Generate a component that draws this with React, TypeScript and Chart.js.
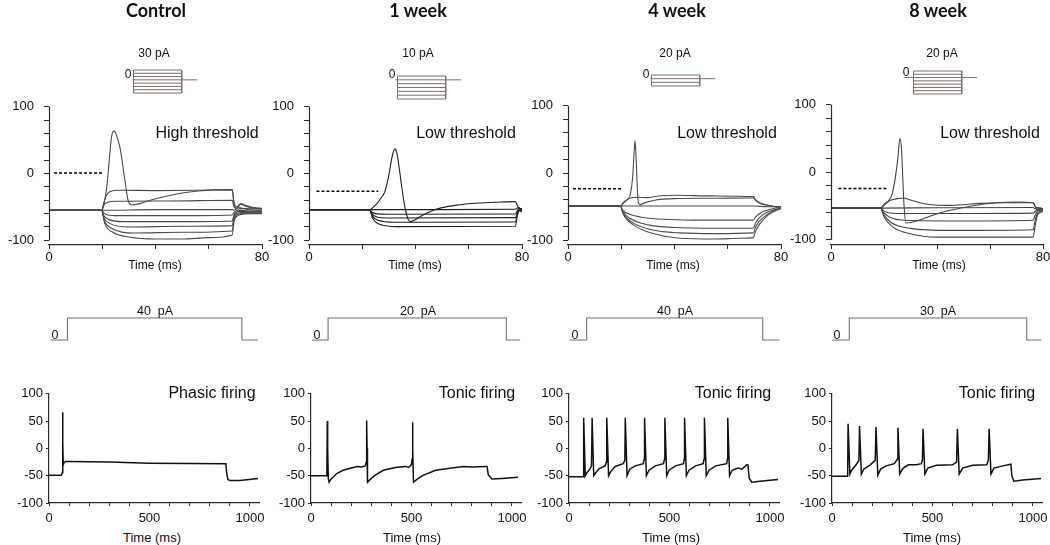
import React, { useEffect, useRef } from 'react';
import { Chart, registerables } from 'chart.js';

Chart.register(...registerables);

type Pt = [number, number];

// ---------------- DATA ----------------
const COLUMN_TITLES = ['Control', '1 week', '4 week', '8 week'];
const TOP_LABELS = ['High threshold', 'Low threshold', 'Low threshold', 'Low threshold'];
const BOTTOM_LABELS = ['Phasic firing', 'Tonic firing', 'Tonic firing', 'Tonic firing'];
const INSET_AMP_LABELS = ['30 pA', '10 pA', '20 pA', '20 pA'];
const STEP_AMPS = [40, 20, 40, 30];
const STEP_AMP_LABELS = ['40  pA', '20  pA', '40  pA', '30  pA'];

// Top panels: axes
const TOP_X_TICKS = [0, 20, 40, 60, 80];
const TOP_X_LABELS = [0, 80];
const TOP_Y_TICKS = [-100, -80, -60, -40, -20, 0, 20, 40, 60, 80, 100];
const TOP_Y_LABELS = [-100, 0, 100];

// Bottom panels: axes
const BOTTOM_X_TICKS = [0, 100, 200, 300, 400, 500, 600, 700, 800, 900, 1000];
const BOTTOM_X_LABELS = [0, 500, 1000];
const BOTTOM_Y_TICKS = [-100, -50, 0, 50, 100];
const BOTTOM_X_MAX = 1045;

// Inset current-step protocols (pA levels)
const INSET_LEVELS_CTRL = [30, 20, 10, 0, -10, -20, -30, -40];
const INSET_LEVELS_1W = [10, 0, -10, -20, -30, -40, -50];
const INSET_LEVELS_4W = [20, 0, -20, -40];
const INSET_LEVELS_8W = [20, 10, 0, -10, -20, -30, -40, -50];
const INSET_STEP_ON = 0;
const INSET_STEP_OFF = 50;
const INSET_TAIL_END = 66;
const INSET_BASE_START = [-1, -2, -1, -10];

// Middle step protocols (ms): start, on, off, end
const STEP_START = [7, 5, 3, 1];
const STEP_ON = [92, 85, 88, 86];
const STEP_OFF = [960, 972, 964, 969];
const STEP_END = [1040, 1041, 1046, 1041];

// Voltage responses (ms, mV) — Control
const CTRL_TOP_SPIKE: Pt[] = [[0, -55], [19.8, -55], [20.5, -48], [21.7, -20], [23.5, 55], [24.4, 64], [25.3, 58], [26.7, 38], [28.5, -10], [29.7, -40], [31.2, -47], [34, -45], [38, -40], [44, -34], [50, -29], [56, -26], [62, -24.5], [68.8, -24], [69.5, -45], [70.5, -52], [72, -46], [74, -49], [77, -52], [80, -53]];
const CTRL_TOP_A: Pt[] = [[0, -55], [19.8, -55], [20.5, -45], [21.5, -33], [23, -27], [26, -25], [40, -25.5], [55, -25], [68.8, -24], [69.5, -44], [70.5, -50], [72, -45], [74, -48], [77, -51], [80, -52]];
const CTRL_TOP_B: Pt[] = [[0, -55], [19.8, -55], [20.6, -47], [22, -43], [25, -41.5], [45, -41], [68.8, -40], [69.5, -50], [71, -53], [75, -52], [80, -53]];
const CTRL_TOP_C: Pt[] = [[0, -55], [20, -55], [40, -54], [68.8, -54], [69.5, -55], [71, -51], [75, -54], [80, -55]];
const CTRL_TOP_D: Pt[] = [[0, -55], [19.8, -55], [20.6, -59], [22, -62], [26, -63], [50, -63], [68.8, -62], [69.5, -58], [71, -55], [75, -56], [80, -56]];
const CTRL_TOP_E: Pt[] = [[0, -55], [19.8, -55], [20.6, -63], [22.5, -69], [28, -72], [50, -72], [68.8, -71], [69.5, -62], [71, -57], [75, -57], [80, -57]];
const CTRL_TOP_F: Pt[] = [[0, -55], [19.8, -55], [20.6, -66], [23, -75], [30, -80], [50, -79], [68.8, -78], [69.5, -65], [71, -59], [75, -58], [80, -58]];
const CTRL_TOP_G: Pt[] = [[0, -55], [19.8, -55], [20.7, -70], [23.5, -82], [32, -89], [50, -88], [68.8, -86], [69.5, -68], [71, -61], [75, -59], [80, -59]];
const CTRL_TOP_H: Pt[] = [[0, -55], [19.8, -55], [21, -75], [24, -88], [30, -95], [40, -98], [50, -98], [60, -96], [68.8, -92], [69.5, -72], [71, -63], [75, -60], [80, -60]];
const CTRL_DASH: Pt[] = [[1.9, 1], [20.7, 1]];

// 1 week
const W1_TOP_SPIKE: Pt[] = [[0, -54], [22.8, -54], [24, -51], [25.5, -45], [27, -37], [28.5, -27], [30, -2], [31.2, 25], [32.2, 37], [33, 31], [34, 5], [35, -25], [36, -50], [37, -66], [38, -72], [39.5, -70], [42, -64], [46, -56], [50, -51], [56, -47], [62, -44.5], [70, -43], [77.5, -42], [78.3, -48], [79, -52], [80, -53]];
const W1_TOP_A: Pt[] = [[0, -54], [22.8, -54], [50, -54], [77.5, -53.5], [78.5, -51], [80, -54]];
const W1_TOP_B: Pt[] = [[0, -54], [22.8, -54], [23.5, -57.5], [25, -60], [30, -61], [77.5, -60.5], [78.3, -55], [79, -52], [80, -54]];
const W1_TOP_C: Pt[] = [[0, -54], [22.8, -54], [23.6, -60], [25.5, -65], [30, -66.5], [77.5, -66], [78.3, -58], [79, -54], [80, -55]];
const W1_TOP_D: Pt[] = [[0, -54], [22.8, -54], [23.7, -63], [26, -70], [32, -73], [77.5, -72.5], [78.3, -60], [79, -55], [80, -56]];
const W1_TOP_E: Pt[] = [[0, -54], [22.8, -54], [23.8, -66], [26.5, -76], [33, -79.5], [77.5, -79], [78.3, -62], [79, -56], [80, -57]];
const W1_DASH: Pt[] = [[2.8, -26.6], [26, -26.6]];

// 4 week
const W4_TOP_SPIKE: Pt[] = [[0, -49], [19.7, -49], [21, -44], [22.5, -39], [23.5, -30], [24.3, -5], [24.9, 35], [25.2, 48], [25.6, 20], [26, -20], [26.4, -44], [27, -47], [29, -44], [33, -40], [40, -38], [55, -37.5], [69.6, -37], [70.5, -41], [72, -45], [75, -48], [78, -50], [80, -51]];
const W4_TOP_A: Pt[] = [[0, -49], [19.7, -49], [21, -43], [23, -38], [26, -36], [30, -36.5], [34, -34], [40, -33], [55, -34], [69.6, -35], [70.5, -40], [72, -44], [75, -48], [78, -50], [80, -51]];
const W4_TOP_B: Pt[] = [[0, -49], [40, -49], [69.6, -49], [75, -50], [80, -50]];
const W4_TOP_C: Pt[] = [[0, -49], [19.7, -49], [20.5, -55], [23, -61], [28, -66], [38, -69], [50, -70], [69.6, -70], [70.5, -65], [72, -60], [75, -55], [78, -52], [80, -51]];
const W4_TOP_D: Pt[] = [[0, -49], [19.7, -49], [20.5, -57], [23.5, -68], [30, -77], [40, -81], [55, -82], [69.6, -82], [70.5, -74], [72, -66], [75, -58], [78, -54], [80, -52]];
const W4_TOP_E: Pt[] = [[0, -49], [19.7, -49], [20.6, -59], [24, -73], [31, -84], [42, -89], [55, -90], [69.6, -89], [70.5, -80], [72, -71], [75, -61], [78, -55], [80, -52]];
const W4_TOP_F: Pt[] = [[0, -49], [19.7, -49], [20.7, -61], [24.5, -77], [32, -90], [42, -97], [55, -98], [65, -97], [69.6, -96], [70.5, -86], [72, -76], [75, -63], [78, -56], [80, -53]];
const W4_DASH: Pt[] = [[1.9, -23.3], [20, -23.3]];

// 8 week
const W8_TOP_SPIKE: Pt[] = [[0, -53], [18.8, -53], [20, -49], [21.6, -43], [23, -33], [24.1, -12], [25.2, 20], [26, 50], [26.6, 35], [27, 0], [27.5, -45], [28.3, -75], [30.4, -74], [34, -70], [37.3, -65], [43, -58], [50, -52], [56, -48], [62.4, -45], [70, -44], [76.3, -45], [77, -50], [78, -57], [79, -54], [80, -56]];
const W8_TOP_A: Pt[] = [[0, -53], [18.8, -53], [20, -47], [22, -42], [25, -39], [27.3, -38], [30, -41], [33.5, -45], [38, -48], [43.6, -49], [50, -48], [56, -46], [65, -45], [76.3, -45], [77, -50], [78, -55], [79, -53], [80, -55]];
const W8_TOP_B: Pt[] = [[0, -53], [18.8, -53], [40, -52.5], [76.3, -52], [77, -54], [78, -52], [80, -54]];
const W8_TOP_C: Pt[] = [[0, -53], [18.8, -53], [19.6, -56], [21, -59], [25, -61], [50, -61], [76.3, -60.5], [77, -58], [78, -54], [80, -55]];
const W8_TOP_D: Pt[] = [[0, -53], [18.8, -53], [19.7, -59], [22, -66], [28, -71], [50, -72], [76.3, -71], [77, -64], [78, -57], [80, -56]];
const W8_TOP_E: Pt[] = [[0, -53], [18.8, -53], [19.8, -62], [22.5, -74], [30, -83], [45, -86], [76.3, -85], [77, -72], [78, -60], [80, -57]];
const W8_TOP_F: Pt[] = [[0, -53], [18.8, -53], [19.9, -65], [23, -80], [30, -91], [40, -96], [76.3, -96], [77, -80], [78, -63], [80, -58]];
const W8_DASH: Pt[] = [[2.8, -24], [21.6, -24]];

// Firing traces (ms, mV)
const CTRL_FIRING: Pt[] = [[0, -49], [62, -49], [66, -44], [67.5, 30], [68.5, 66], [69.5, 10], [71, -30], [75, -26], [82, -24], [100, -24], [300, -25], [500, -27], [700, -27.5], [880, -28], [884, -45], [890, -57], [900, -59], [950, -59], [1040, -55]];
const W1_FIRING: Pt[] = [[0, -50], [75, -50], [79, -45], [81, 50], [83, 0], [86, -55], [90, -62], [100, -56], [128, -46], [160, -40], [200, -36], [230, -33], [250, -34], [270, -32], [275, -25], [277, 51], [279, 0], [281, -62], [300, -55], [320, -49], [360, -40], [420, -35], [470, -33], [485, -35], [500, -30], [503, -20], [505, 48], [507, 0], [510, -62], [530, -56], [560, -49], [620, -40], [700, -36], [760, -33], [800, -34], [870, -33], [876, -33], [882, -48], [900, -56], [950, -55], [1030, -53]];
const W4_FIRING: Pt[] = [[0, -52], [72, -52], [73, 56], [81, -50], [88, -45], [100, -40], [112, -32], [115, 56], [123, -50], [132, -45], [150, -37], [180, -32], [186, -25], [188, 56], [197, -50], [208, -42], [230, -33], [270, -28], [278, -22], [280, 56], [289, -50], [302, -38], [330, -32], [370, -28], [374, -20], [376, 56], [385, -50], [398, -40], [430, -32], [470, -28], [475, -20], [477, 56], [486, -50], [498, -40], [530, -32], [570, -28], [573, -20], [575, 56], [584, -50], [597, -40], [630, -32], [668, -28], [672, -20], [674, 56], [683, -50], [697, -40], [730, -32], [785, -28], [788, -20], [790, 56], [799, -50], [812, -40], [840, -36], [860, -38], [885, -30], [890, -30], [897, -55], [910, -62], [950, -60], [1040, -57]];
const W8_FIRING: Pt[] = [[0, -51], [78, -51], [80, 45], [89, -47], [98, -40], [120, -30], [134, -22], [137, 41], [146, -47], [158, -38], [190, -30], [215, -22], [219, 39], [228, -49], [242, -38], [270, -32], [310, -28], [325, -20], [328, 38], [337, -47], [352, -37], [380, -30], [420, -30], [445, -28], [450, -20], [453, 36], [462, -47], [477, -36], [520, -31], [600, -30], [620, -25], [624, 36], [633, -47], [650, -36], [700, -31], [770, -30], [778, -22], [782, 36], [791, -47], [806, -36], [850, -32], [890, -29], [895, -50], [905, -60], [950, -58], [1040, -55]];

const TOP_TRACES: Pt[][][] = [
  [CTRL_TOP_A, CTRL_TOP_B, CTRL_TOP_C, CTRL_TOP_D, CTRL_TOP_E, CTRL_TOP_F, CTRL_TOP_G, CTRL_TOP_H, CTRL_TOP_SPIKE],
  [W1_TOP_A, W1_TOP_B, W1_TOP_C, W1_TOP_D, W1_TOP_E, W1_TOP_SPIKE],
  [W4_TOP_A, W4_TOP_B, W4_TOP_C, W4_TOP_D, W4_TOP_E, W4_TOP_F, W4_TOP_SPIKE],
  [W8_TOP_A, W8_TOP_B, W8_TOP_C, W8_TOP_D, W8_TOP_E, W8_TOP_F, W8_TOP_SPIKE],
];
const TOP_DASHES: Pt[][] = [CTRL_DASH, W1_DASH, W4_DASH, W8_DASH];
const FIRING: Pt[][] = [CTRL_FIRING, W1_FIRING, W4_FIRING, W8_FIRING];
const INSET_LEVELS: number[][] = [INSET_LEVELS_CTRL, INSET_LEVELS_1W, INSET_LEVELS_4W, INSET_LEVELS_8W];

// ---------------- LAYOUT / STYLE ----------------
const FONT = '"Liberation Sans", Arial, Helvetica, sans-serif';
const TITLE_FONT = 'Lato, "Liberation Sans", sans-serif';
const AXIS_COLOR = '#2a2a2a';
const TEXT_COLOR = '#111';
const TOP_COLORS = ['#4a4a4a', '#1e1e1e', '#4d4d4d', '#444'];
const STEP_COLOR = '#7a6e69';

const TOP_LAYOUT = [
  { left: 49, right: 262, yTop: 97, yBot: 240, xAxisY: 245 },
  { left: 309, right: 522, yTop: 97, yBot: 240, xAxisY: 245 },
  { left: 568, right: 781, yTop: 96, yBot: 239.5, xAxisY: 244.5 },
  { left: 831, right: 1043, yTop: 95, yBot: 239, xAxisY: 244.5 },
];
const TOP_PAD = { l: 50, t: 8, r: 14, b: 26 };

const BOTTOM_LEFT = [48.5, 311, 569.3, 831.7];
const BOTTOM_PX_PER_MS = 0.201;
const BOTTOM_Y_TOP = 391;
const BOTTOM_Y_BOT = 502.5;
const BOTTOM_PAD = { l: 46, t: 8, r: 14, b: 26 };

const STEP_Y_TOP = 318;
const STEP_Y_BASE = 339.5;

const INSET_LAYOUT = [
  { on: 133.3, zero: 80, ky: 0.33 },
  { on: 397.3, zero: 79.3, ky: 0.38 },
  { on: 652, zero: 79, ky: 0.19 },
  { on: 914, zero: 77.7, ky: 0.33 },
];
const INSET_KX = 0.97;
const INSET_X_MIN = -14;
const INSET_X_MAX = 70;

const TEXTS = {
  titles: [[156, 10], [418, 10], [677, 10], [938, 10]],
  insetAmp: [[154, 53], [418, 53], [675, 53], [942, 53]],
  insetZero: [[128, 74], [392, 74], [646, 74], [906, 72]],
  topLabel: [[207, 133], [466, 133], [727, 133], [990, 133]],
  topTime: [[155, 265], [415, 265], [673, 265], [939, 265]],
  stepAmp: [[155, 311], [418, 311], [675, 311], [938, 311]],
  stepZero: [[55, 335], [317, 335], [575, 335], [837, 335]],
  bottomLabel: [[212, 393], [477, 393], [733, 393], [997, 393]],
  bottomTime: [[152, 537], [412, 537], [671, 537], [932, 537]],
};

// ---------------- HELPERS ----------------
function ds(points: Pt[], color: string, width: number, smooth: boolean, dash?: number[], clip: any = 6) {
  return {
    data: points.map(([x, y]) => ({ x, y })),
    borderColor: color,
    backgroundColor: color,
    borderWidth: width,
    borderDash: dash || [],
    pointRadius: 0,
    pointHoverRadius: 0,
    showLine: true,
    fill: false,
    tension: 0,
    cubicInterpolationMode: smooth ? 'monotone' : 'default',
    clip,
  };
}

const yAxisLinePlugin = {
  id: 'yAxisLine',
  afterDraw(chart: any, _args: any, opts: any) {
    if (!opts || !opts.enabled) return;
    const y = chart.scales.y;
    const { ctx, chartArea } = chart;
    ctx.save();
    ctx.strokeStyle = opts.color;
    ctx.lineWidth = opts.width;
    ctx.beginPath();
    const x = Math.round(chartArea.left) + 0.5;
    ctx.moveTo(x, y.getPixelForValue(opts.from));
    ctx.lineTo(x, y.getPixelForValue(opts.to));
    ctx.stroke();
    ctx.restore();
  },
};

const baseOptions = (padding: any) => ({
  responsive: false,
  maintainAspectRatio: false,
  animation: false as const,
  events: [],
  layout: { padding, autoPadding: false },
  plugins: { legend: { display: false }, tooltip: { enabled: false } },
});

type Rect = { x: number; y: number; w: number; h: number };
type Pad = { l: number; t: number; r: number; b: number };

function topConfig(c: number) {
  const L = TOP_LAYOUT[c];
  const k = (L.yBot - L.yTop) / 200;
  const yMin = -100 - (L.xAxisY - L.yBot) / k;
  const datasets: any[] = TOP_TRACES[c].map((t) => ds(t, TOP_COLORS[c], 1.1, true));
  datasets.push(ds(TOP_DASHES[c], '#000', 1.5, false, [3, 2]));
  const opts: any = baseOptions({ left: 0, top: TOP_PAD.t, right: TOP_PAD.r, bottom: 0 });
  opts.plugins.yAxisLine = { enabled: true, from: 100, to: -100, color: AXIS_COLOR, width: 1.2 };
  opts.scales = {
    x: {
      type: 'linear', min: 0, max: 80,
      afterBuildTicks: (s: any) => { s.ticks = TOP_X_TICKS.map((v) => ({ value: v })); },
      afterFit: (s: any) => { s.height = TOP_PAD.b; },
      ticks: {
        autoSkip: false, maxRotation: 0, padding: 1, color: TEXT_COLOR,
        font: { family: FONT, size: 13 },
        callback: (v: any) => (TOP_X_LABELS.includes(Number(v)) ? String(v) : ''),
      },
      grid: { display: true, drawOnChartArea: false, drawTicks: true, tickLength: 4, color: AXIS_COLOR, lineWidth: 1 },
      border: { display: true, color: AXIS_COLOR, width: 1.2 },
    },
    y: {
      type: 'linear', min: yMin, max: 100,
      afterBuildTicks: (s: any) => { s.ticks = TOP_Y_TICKS.map((v) => ({ value: v })); },
      afterFit: (s: any) => { s.width = TOP_PAD.l; },
      ticks: {
        autoSkip: false, padding: 10, color: TEXT_COLOR,
        font: { family: FONT, size: 13 },
        callback: (v: any) => (TOP_Y_LABELS.includes(Number(v)) ? String(v) : ''),
      },
      grid: { display: true, drawOnChartArea: false, drawTicks: true, tickLength: 5, color: AXIS_COLOR, lineWidth: 1 },
      border: { display: false },
    },
  };
  return { type: 'scatter', data: { datasets }, options: opts, plugins: [yAxisLinePlugin] };
}

function bottomConfig(c: number) {
  const datasets: any[] = [ds(FIRING[c], '#111', 1.5, false)];
  const opts: any = baseOptions({ left: 0, top: BOTTOM_PAD.t, right: BOTTOM_PAD.r, bottom: 0 });
  opts.scales = {
    x: {
      type: 'linear', min: 0, max: BOTTOM_X_MAX,
      afterBuildTicks: (s: any) => { s.ticks = BOTTOM_X_TICKS.map((v) => ({ value: v })); },
      afterFit: (s: any) => { s.height = BOTTOM_PAD.b; },
      ticks: {
        autoSkip: false, maxRotation: 0, padding: 5, color: TEXT_COLOR,
        font: { family: FONT, size: 13 },
        callback: (v: any) => (BOTTOM_X_LABELS.includes(Number(v)) ? String(v) : ''),
      },
      grid: { display: true, drawOnChartArea: false, drawTicks: true, tickLength: 3, color: AXIS_COLOR, lineWidth: 1 },
      border: { display: true, color: AXIS_COLOR, width: 1.2 },
    },
    y: {
      type: 'linear', min: -100, max: 100,
      afterBuildTicks: (s: any) => { s.ticks = BOTTOM_Y_TICKS.map((v) => ({ value: v })); },
      afterFit: (s: any) => { s.width = BOTTOM_PAD.l; },
      ticks: { autoSkip: false, padding: 3, color: TEXT_COLOR, font: { family: FONT, size: 13 } },
      grid: { display: true, drawOnChartArea: false, drawTicks: true, tickLength: 3, color: AXIS_COLOR, lineWidth: 1 },
      border: { display: true, color: AXIS_COLOR, width: 1.2 },
    },
  };
  return { type: 'scatter', data: { datasets }, options: opts };
}

function noAxisScales(xMin: number, xMax: number, yMin: number, yMax: number) {
  return {
    x: { type: 'linear', min: xMin, max: xMax, display: false },
    y: { type: 'linear', min: yMin, max: yMax, display: false },
  };
}

function stepConfig(c: number) {
  const amp = STEP_AMPS[c];
  const pts: Pt[] = [
    [STEP_START[c], 0], [STEP_ON[c], 0], [STEP_ON[c], amp],
    [STEP_OFF[c], amp], [STEP_OFF[c], 0], [STEP_END[c], 0],
  ];
  const opts: any = baseOptions({ left: 4, top: 4, right: 4, bottom: 4 });
  opts.scales = noAxisScales(0, BOTTOM_X_MAX, 0, amp);
  return { type: 'scatter', data: { datasets: [ds(pts, STEP_COLOR, 1.1, false, undefined, false)] }, options: opts };
}

function insetConfig(c: number) {
  const lv = INSET_LEVELS[c];
  const hi = Math.max(...lv);
  const lo = Math.min(...lv);
  const datasets: any[] = [];
  lv.filter((v) => v !== 0).forEach((v) => {
    datasets.push(ds([[INSET_STEP_ON, v], [INSET_STEP_OFF, v]], STEP_COLOR, 1, false, undefined, false));
  });
  datasets.push(ds([[INSET_BASE_START[c], 0], [INSET_TAIL_END, 0]], STEP_COLOR, 1, false, undefined, false));
  datasets.push(ds([[INSET_STEP_ON, hi], [INSET_STEP_ON, lo]], STEP_COLOR, 1, false, undefined, false));
  datasets.push(ds([[INSET_STEP_OFF, hi], [INSET_STEP_OFF, lo]], STEP_COLOR, 1, false, undefined, false));
  const opts: any = baseOptions({ left: 4, top: 4, right: 4, bottom: 4 });
  opts.scales = noAxisScales(INSET_X_MIN, INSET_X_MAX, lo, hi);
  return { type: 'scatter', data: { datasets }, options: opts };
}

function ChartBox({ area, pad, make }: { area: Rect; pad: Pad; make: () => any }) {
  const ref = useRef<HTMLCanvasElement>(null);
  const w = Math.round(area.w + pad.l + pad.r);
  const h = Math.round(area.h + pad.t + pad.b);
  useEffect(() => {
    const chart = new Chart(ref.current as HTMLCanvasElement, make());
    return () => chart.destroy();
  }, []);
  return (
    <canvas
      ref={ref}
      width={w}
      height={h}
      style={{ position: 'absolute', left: area.x - pad.l, top: area.y - pad.t, width: w, height: h }}
    />
  );
}

function Txt({ x, y, text, size, bold, family }: { x: number; y: number; text: string; size: number; bold?: boolean; family?: string }) {
  return (
    <div
      style={{
        position: 'absolute', left: x, top: y, transform: 'translate(-50%, -50%)',
        fontFamily: family || FONT, fontSize: size, fontWeight: bold ? 700 : 400,
        lineHeight: 1, whiteSpace: 'pre', color: TEXT_COLOR,
      }}
    >
      {text}
    </div>
  );
}

export default function App() {
  const cols = [0, 1, 2, 3];
  return (
    <div style={{ position: 'fixed', left: 0, top: 0, width: 1050, height: 545, overflow: 'hidden', background: '#fff' }}>
      {cols.map((c) => {
        const T = TOP_LAYOUT[c];
        const topArea: Rect = { x: T.left, y: T.yTop, w: T.right - T.left, h: T.xAxisY - T.yTop };
        const botArea: Rect = { x: BOTTOM_LEFT[c], y: BOTTOM_Y_TOP, w: BOTTOM_X_MAX * BOTTOM_PX_PER_MS, h: BOTTOM_Y_BOT - BOTTOM_Y_TOP };
        const stepArea: Rect = { x: BOTTOM_LEFT[c] - 4, y: STEP_Y_TOP - 4, w: BOTTOM_X_MAX * BOTTOM_PX_PER_MS + 8, h: STEP_Y_BASE - STEP_Y_TOP + 8 };
        const I = INSET_LAYOUT[c];
        const lv = INSET_LEVELS[c];
        const hi = Math.max(...lv);
        const lo = Math.min(...lv);
        const insetArea: Rect = {
          x: I.on + INSET_X_MIN * INSET_KX - 4,
          y: I.zero - hi * I.ky - 4,
          w: (INSET_X_MAX - INSET_X_MIN) * INSET_KX + 8,
          h: (hi - lo) * I.ky + 8,
        };
        const zero: Pad = { l: 0, t: 0, r: 0, b: 0 };
        return (
          <React.Fragment key={c}>
            <ChartBox area={topArea} pad={TOP_PAD} make={() => topConfig(c)} />
            <ChartBox area={insetArea} pad={zero} make={() => insetConfig(c)} />
            <ChartBox area={stepArea} pad={zero} make={() => stepConfig(c)} />
            <ChartBox area={botArea} pad={BOTTOM_PAD} make={() => bottomConfig(c)} />
            <Txt x={TEXTS.titles[c][0]} y={TEXTS.titles[c][1]} text={COLUMN_TITLES[c]} size={18} bold family={TITLE_FONT} />
            <Txt x={TEXTS.insetAmp[c][0]} y={TEXTS.insetAmp[c][1]} text={INSET_AMP_LABELS[c]} size={12} />
            <Txt x={TEXTS.insetZero[c][0]} y={TEXTS.insetZero[c][1]} text="0" size={12} />
            <Txt x={TEXTS.topLabel[c][0]} y={TEXTS.topLabel[c][1]} text={TOP_LABELS[c]} size={16} />
            <Txt x={TEXTS.topTime[c][0]} y={TEXTS.topTime[c][1]} text="Time (ms)" size={12} />
            <Txt x={TEXTS.stepAmp[c][0]} y={TEXTS.stepAmp[c][1]} text={STEP_AMP_LABELS[c]} size={12.5} />
            <Txt x={TEXTS.stepZero[c][0]} y={TEXTS.stepZero[c][1]} text="0" size={12.5} />
            <Txt x={TEXTS.bottomLabel[c][0]} y={TEXTS.bottomLabel[c][1]} text={BOTTOM_LABELS[c]} size={16} />
            <Txt x={TEXTS.bottomTime[c][0]} y={TEXTS.bottomTime[c][1]} text="Time (ms)" size={13} />
          </React.Fragment>
        );
      })}
    </div>
  );
}
